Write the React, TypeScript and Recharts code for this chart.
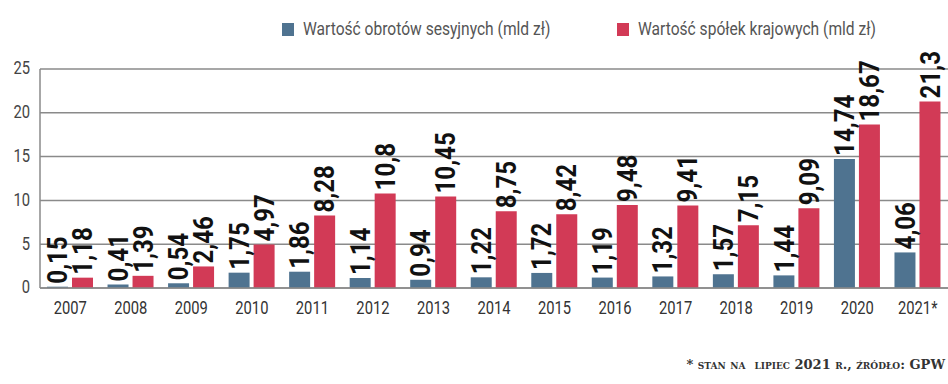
import React from 'react';
import { BarChart, Bar, XAxis, YAxis, CartesianGrid, LabelList } from 'recharts';

const years = ['2007', '2008', '2009', '2010', '2011', '2012', '2013', '2014', '2015', '2016', '2017', '2018', '2019', '2020', '2021*'];
const sessionTurnover = [0.15, 0.41, 0.54, 1.75, 1.86, 1.14, 0.94, 1.22, 1.72, 1.19, 1.32, 1.57, 1.44, 14.74, 4.06];
const domesticCompanies = [1.18, 1.39, 2.46, 4.97, 8.28, 10.8, 10.45, 8.75, 8.42, 9.48, 9.41, 7.15, 9.09, 18.67, 21.3];
const yTicks = [0, 5, 10, 15, 20, 25];

const seriesNames = ['Wartość obrotów sesyjnych (mld zł)', 'Wartość spółek krajowych (mld zł)'];
const BLUE = '#4f7390';
const RED = '#d23a56';

const data = years.map((year, i) => ({
  year,
  obroty: sessionTurnover[i],
  spolki: domesticCompanies[i],
}));

const FONT = 'Roboto, "Noto Sans", sans-serif';
// no condensed face installed, so text is squeezed horizontally
const SQUEEZE = 0.82;

// rotated value label sitting on top of a bar
const VerticalLabel = (props: any) => {
  const { x, y, width, value } = props;
  const cx = x + width / 2;
  const ty = y - 3;
  return (
    <text
      transform={`translate(${cx},${ty}) rotate(-90) scale(0.86,1)`}
      textAnchor="start"
      dominantBaseline="central"
      fontFamily={FONT}
      fontWeight="bold"
      fontSize={28}
      fill="#111"
    >
      {String(value).replace('.', ',')}
    </text>
  );
};

const XTick = (props: any) => {
  const { x, y, payload } = props;
  return (
    <text
      transform={`translate(${x},${y}) scale(${SQUEEZE},1)`}
      textAnchor="middle"
      dy="0.8em"
      fontFamily={FONT}
      fontSize={18}
      fill="#333"
    >
      {payload.value}
    </text>
  );
};

const YTick = (props: any) => {
  const { x, y, payload } = props;
  return (
    <text
      transform={`translate(${x},${y}) scale(${SQUEEZE},1)`}
      textAnchor="end"
      dy="0.3em"
      fontFamily={FONT}
      fontSize={18}
      fill="#444"
    >
      {payload.value}
    </text>
  );
};

const LegendItem: React.FC<{ color: string; label: string; left: number }> = ({ color, label, left }) => (
  <div style={{ position: 'absolute', left, top: 23, height: 13 }}>
    <div style={{ position: 'absolute', left: 0, top: 0, width: 12, height: 13, background: color }} />
    <span
      style={{
        position: 'absolute',
        left: 21,
        top: -6,
        fontFamily: FONT,
        fontSize: 19,
        color: '#555',
        whiteSpace: 'nowrap',
        display: 'inline-block',
        transform: `scaleX(${SQUEEZE})`,
        transformOrigin: 'left center',
      }}
    >
      {label}
    </span>
  </div>
);

const App: React.FC = () => {
  return (
    <div style={{ position: 'absolute', left: 0, top: 0, width: 948, height: 384, background: '#fff', overflow: 'hidden' }}>
      <BarChart
        width={948}
        height={384}
        data={data}
        margin={{ top: 69, right: 0, left: 0, bottom: 66 }}
        barSize={21}
        barGap={4}
      >
        <CartesianGrid vertical={false} stroke="#8a8a8a" strokeWidth={1.5} />
        <XAxis
          dataKey="year"
          height={30}
          axisLine={{ stroke: '#8a8a8a', strokeWidth: 1.5 }}
          tickLine={false}
          tickMargin={6}
          tick={XTick}
          interval={0}
        />
        <YAxis
          width={40}
          domain={[0, 25]}
          ticks={yTicks}
          axisLine={{ stroke: '#8a8a8a', strokeWidth: 1.5 }}
          tickLine={false}
          tickMargin={4}
          tick={YTick}
        />
        <Bar dataKey="obroty" name={seriesNames[0]} fill={BLUE} isAnimationActive={false}>
          <LabelList dataKey="obroty" content={VerticalLabel} />
        </Bar>
        <Bar dataKey="spolki" name={seriesNames[1]} fill={RED} isAnimationActive={false}>
          <LabelList dataKey="spolki" content={VerticalLabel} />
        </Bar>
      </BarChart>

      <LegendItem color={BLUE} label={seriesNames[0]} left={282} />
      <LegendItem color={RED} label={seriesNames[1]} left={617} />

      <div
        style={{
          position: 'absolute',
          right: 3,
          top: 357,
          fontFamily: '"DejaVu Serif", "Liberation Serif", serif',
          fontVariant: 'small-caps',
          fontWeight: 'bold',
          fontSize: 13,
          color: '#333',
          whiteSpace: 'pre',
        }}
      >
        {'* stan na  lipiec 2021 r., źródło: GPW'}
      </div>
    </div>
  );
};

export default App;
